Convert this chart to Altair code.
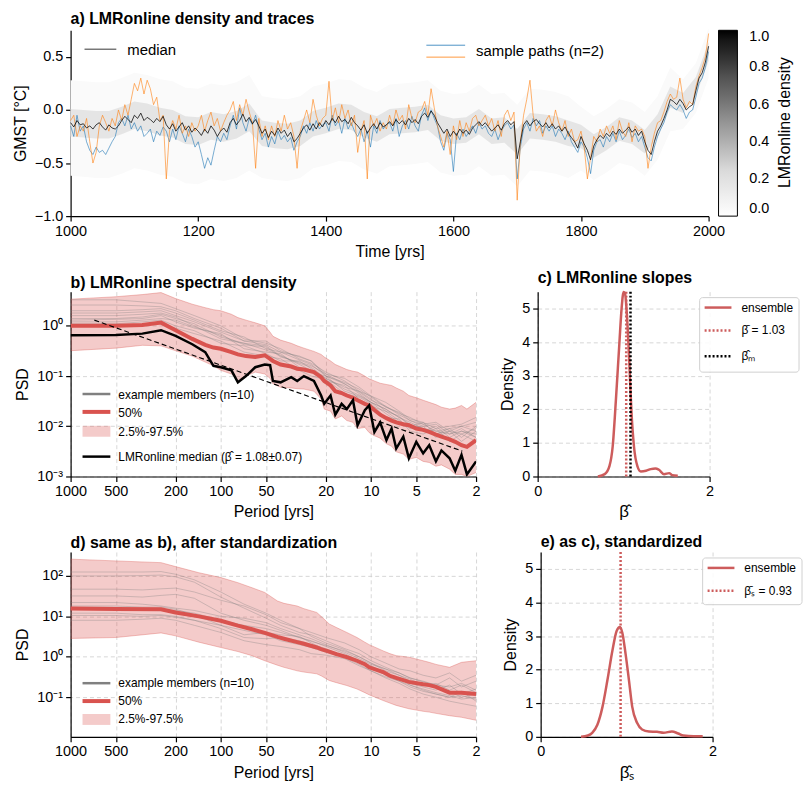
import altair as alt
import pandas as pd

FONT = "Liberation Sans"
RED_B = "#d9534f"
RED_C = "#cd5c5c"
GRID = dict(grid=True, gridDash=[4, 3], gridColor="#cccccc", gridWidth=0.8)

# ---------------- panel a : GMST traces (5-yr steps) ----------------
years5 = list(range(1000, 2001, 5))
median_a = [
    -0.12, -0.16, -0.10, -0.14, -0.13, -0.17, -0.15, -0.18, -0.14, -0.12,
    -0.16, -0.19, -0.14, -0.17, -0.18, -0.15, -0.10, -0.06, -0.09, -0.12,
    -0.05, -0.08, -0.03, -0.10, -0.07, -0.09, -0.12, -0.08, -0.11, -0.06,
    -0.14, -0.18, -0.13, -0.20, -0.16, -0.12, -0.19, -0.15, -0.21, -0.17,
    -0.20, -0.24, -0.18, -0.22, -0.15, -0.19, -0.25, -0.20, -0.17, -0.21,
    -0.12, -0.08, -0.14, -0.10, -0.04, -0.11, -0.07, -0.13, -0.09, -0.15,
    -0.22, -0.18, -0.26, -0.20, -0.24, -0.17, -0.22, -0.19, -0.25, -0.21,
    -0.30, -0.27, -0.22, -0.17, -0.14, -0.19, -0.13, -0.18, -0.12, -0.16,
    -0.10, -0.14, -0.08, -0.12, -0.06, -0.11, -0.09, -0.13, -0.07, -0.12,
    -0.15, -0.19, -0.14, -0.22, -0.17, -0.13, -0.18, -0.12, -0.16, -0.14,
    -0.11, -0.15, -0.09, -0.13, -0.10, -0.14, -0.08, -0.12, -0.09, -0.13,
    -0.06, -0.03, -0.07, -0.01, -0.05, -0.12, -0.17, -0.22, -0.18, -0.25,
    -0.20, -0.24, -0.18, -0.22, -0.19, -0.23, -0.17, -0.14, -0.11, -0.15,
    -0.12, -0.16, -0.20, -0.17, -0.14, -0.19, -0.13, -0.10, -0.14, -0.11,
    -0.46, -0.30, -0.14, -0.10, -0.15, -0.11, -0.09, -0.13, -0.16, -0.12,
    -0.17, -0.13, -0.18, -0.15, -0.20, -0.16, -0.22, -0.26, -0.30, -0.36,
    -0.25, -0.32, -0.38, -0.47, -0.34, -0.28, -0.24, -0.27, -0.22, -0.25,
    -0.20, -0.23, -0.18, -0.22, -0.19, -0.16, -0.21, -0.18, -0.24, -0.20,
    -0.30, -0.38, -0.42, -0.30, -0.20, -0.15, -0.08, 0.00, 0.10, 0.08,
    0.05, 0.10, 0.06, 0.00, 0.03, 0.05, 0.18, 0.30, 0.35, 0.45,
    0.60,
]
blue_a = [
    -0.15, -0.25, -0.05, -0.20, -0.15, -0.30, -0.38, -0.42, -0.35, -0.40,
    -0.38, -0.42, -0.36, -0.30, -0.25, -0.12, -0.08, -0.15, -0.05, -0.18,
    -0.12, -0.20, -0.15, -0.25, -0.22, -0.18, -0.30, -0.20, -0.24, -0.16,
    -0.20, -0.30, -0.18, -0.28, -0.15, -0.22, -0.30, -0.18, -0.25, -0.35,
    -0.30, -0.42, -0.55, -0.45, -0.52, -0.38, -0.25, -0.30, -0.22, -0.28,
    -0.15, -0.05, -0.18, 0.02, -0.12, -0.20, -0.08, -0.14, -0.05, -0.18,
    -0.28, -0.22, -0.35, -0.25, -0.32, -0.20, -0.28, -0.24, -0.30, -0.26,
    -0.38, -0.30, -0.25, -0.15, -0.22, -0.12, -0.20, -0.10, -0.18, -0.14,
    -0.12, -0.20, -0.05, -0.15, -0.10, -0.22, -0.08, -0.18, -0.12, -0.20,
    -0.25, -0.18, -0.30, -0.20, -0.35, -0.15, -0.22, -0.10, -0.18, -0.14,
    -0.12, -0.20, -0.08, -0.25, -0.15, -0.10, -0.18, -0.06, -0.15, -0.20,
    -0.05, 0.02, -0.10, 0.00, -0.08, -0.15, -0.30, -0.38, -0.22, -0.28,
    -0.58, -0.22, -0.28, -0.18, -0.25, -0.20, -0.15, -0.22, -0.12, -0.18,
    -0.15, -0.22, -0.25, -0.18, -0.28, -0.20, -0.15, -0.12, -0.18, -0.14,
    -0.65, -0.35, -0.18, -0.12, -0.20, -0.08, -0.15, -0.10, -0.22, -0.15,
    -0.20, -0.15, -0.25, -0.18, -0.22, -0.28, -0.20, -0.30, -0.35, -0.40,
    -0.30, -0.35, -0.45, -0.60, -0.38, -0.30, -0.28, -0.35, -0.25, -0.30,
    -0.22, -0.30, -0.20, -0.28, -0.24, -0.18, -0.26, -0.22, -0.30, -0.25,
    -0.35, -0.45, -0.48, -0.35, -0.25, -0.18, -0.12, -0.02, 0.05, 0.02,
    0.00, 0.05, 0.00, -0.08, -0.02, 0.00, 0.12, 0.25, 0.30, 0.40,
    0.55,
]
orange_a = [
    -0.10, -0.05, -0.25, -0.15, -0.20, -0.08, -0.30, -0.50, -0.40, -0.15,
    -0.05, -0.12, -0.20, -0.08, -0.15, 0.00, -0.10, 0.05, -0.05, 0.10,
    0.25, 0.18, 0.30, 0.15, 0.28, 0.20, 0.05, 0.12, -0.10, -0.05,
    -0.65, -0.20, -0.10, -0.18, -0.05, -0.22, -0.15, -0.25, -0.12, -0.20,
    -0.15, -0.05, -0.20, -0.10, -0.02, -0.15, -0.08, -0.20, -0.12, -0.05,
    0.00, 0.08, -0.10, 0.05, -0.05, 0.10, -0.02, -0.12, -0.55, -0.08,
    -0.25, -0.15, -0.28, -0.15, -0.25, -0.10, -0.20, -0.05, -0.18, -0.12,
    -0.25, -0.55, -0.20, -0.10, 0.00, -0.12, 0.10, -0.05, -0.15, -0.08,
    -0.05, 0.27, -0.10, 0.02, -0.12, 0.05, -0.08, 0.00, -0.15, -0.05,
    -0.40, -0.20, -0.10, -0.65, -0.05, -0.15, -0.08, -0.20, -0.12, -0.18,
    -0.05, -0.15, 0.00, -0.10, -0.05, -0.18, 0.05, -0.08, -0.12, -0.02,
    0.00, 0.08, -0.05, 0.20, 0.02, -0.15, -0.25, -0.35, -0.20, -0.42,
    -0.15, -0.28, -0.10, -0.25, -0.12, -0.20, -0.08, -0.05, -0.15, -0.10,
    -0.05, -0.15, -0.08, -0.20, -0.10, -0.25, -0.05, 0.00, -0.10, -0.02,
    -0.85, -0.30, -0.05, 0.10, 0.28, -0.05, -0.20, -0.15, -0.25, -0.10,
    -0.05, -0.15, 0.00, -0.12, -0.20, -0.10, -0.25, -0.18, -0.30, -0.28,
    -0.20, -0.35, -0.65, -0.45, -0.25, -0.30, -0.18, -0.25, -0.15, -0.22,
    -0.15, -0.28, -0.10, -0.20, -0.25, -0.12, -0.30, -0.15, -0.20, -0.18,
    -0.25, -0.55, -0.35, -0.22, -0.12, -0.10, -0.02, 0.08, 0.15, 0.10,
    0.12, 0.30, 0.10, 0.02, 0.08, 0.05, 0.22, 0.32, 0.40, 0.50,
    0.72,
]

# density haze envelopes (20-yr steps)
years20 = list(range(1000, 2001, 20))
outer_hi = [0.28, 0.27, 0.26, 0.26, 0.30, 0.35, 0.33, 0.29, 0.27, 0.21,
            0.20, 0.25, 0.23, 0.26, 0.33, 0.13, 0.11, 0.10, 0.13, 0.22,
            0.25, 0.29, 0.28, 0.21, 0.17, 0.24, 0.25, 0.26, 0.28, 0.18,
            0.15, 0.16, 0.24, 0.15, 0.16, 0.05, 0.20, 0.19, 0.17, 0.13,
            0.03, -0.06, 0.01, 0.10, 0.07, -0.02, 0.13, 0.40, 0.29, 0.44,
            0.77]
outer_lo = [-0.62, -0.63, -0.64, -0.64, -0.60, -0.55, -0.57, -0.61, -0.63, -0.69,
            -0.70, -0.65, -0.67, -0.64, -0.57, -0.64, -0.66, -0.67, -0.64, -0.55,
            -0.52, -0.48, -0.49, -0.56, -0.60, -0.53, -0.52, -0.51, -0.49, -0.59,
            -0.62, -0.61, -0.53, -0.62, -0.61, -0.72, -0.57, -0.58, -0.60, -0.64,
            -0.57, -0.66, -0.59, -0.50, -0.53, -0.62, -0.47, -0.20, -0.18, -0.03,
            0.30]
inner_hi = [0.01, 0.00, -0.01, -0.01, 0.03, 0.08, 0.06, 0.02, 0.00, -0.06,
            -0.07, -0.02, -0.04, -0.01, 0.06, -0.10, -0.12, -0.13, -0.10, -0.01,
            0.02, 0.06, 0.05, -0.02, -0.06, 0.01, 0.02, 0.03, 0.05, -0.05,
            -0.08, -0.07, 0.01, -0.08, -0.07, -0.18, -0.03, -0.04, -0.06, -0.10,
            -0.14, -0.23, -0.16, -0.07, -0.10, -0.19, -0.04, 0.22, 0.16, 0.31,
            0.64]
inner_lo = [-0.25, -0.26, -0.27, -0.27, -0.23, -0.18, -0.20, -0.24, -0.26, -0.32,
            -0.33, -0.28, -0.30, -0.27, -0.20, -0.34, -0.36, -0.37, -0.34, -0.25,
            -0.22, -0.18, -0.19, -0.26, -0.30, -0.23, -0.22, -0.21, -0.19, -0.29,
            -0.32, -0.31, -0.23, -0.32, -0.31, -0.42, -0.27, -0.28, -0.30, -0.34,
            -0.36, -0.45, -0.38, -0.29, -0.32, -0.41, -0.26, 0.02, -0.03, 0.13,
            0.46]

# ---------------- panel b : spectral density ----------------
period_b = [1000, 500, 333, 250, 200, 155, 127, 112, 100, 85,
            77, 68, 59, 51, 47, 45, 40, 34, 31, 28,
            24, 21.5, 20.5, 18.6, 17.3, 15.7, 14.5, 13.2, 12.3, 11.0,
            10.3, 9.5, 8.7, 7.9, 7.3, 6.8, 6.1, 5.6, 5.0, 4.5,
            4.1, 3.7, 3.4, 3.0, 2.75, 2.5, 2.3, 2.0]
black_b = [0.65, 0.66, 0.70, 0.82, 0.63, 0.43, 0.30, 0.16, 0.15, 0.13,
           0.075, 0.10, 0.15, 0.17, 0.165, 0.08, 0.075, 0.095, 0.08, 0.10,
           0.08, 0.041, 0.028, 0.041, 0.017, 0.028, 0.022, 0.033, 0.0105, 0.021,
           0.026, 0.0077, 0.012, 0.0053, 0.009, 0.0036, 0.0062, 0.0023, 0.0049, 0.0029,
           0.0042, 0.0020, 0.0033, 0.0023, 0.0013, 0.0027, 0.0011, 0.0020]
red_b = [1.0, 1.0, 1.04, 1.16, 0.82, 0.55, 0.42, 0.37, 0.35, 0.30,
         0.27, 0.25, 0.24, 0.26, 0.22, 0.20, 0.17, 0.155, 0.14, 0.135,
         0.12, 0.095, 0.08, 0.065, 0.05, 0.046, 0.041, 0.037, 0.033, 0.028,
         0.026, 0.021, 0.017, 0.0145, 0.013, 0.012, 0.011, 0.0105, 0.009, 0.0085,
         0.0077, 0.0068, 0.0062, 0.0055, 0.0049, 0.0042, 0.0039, 0.0053]
hi_b = [3.4, 3.8, 4.2, 4.6, 3.5, 2.7, 2.3, 2.1, 2.0, 1.7,
        1.46, 1.3, 1.15, 1.0, 0.75, 0.62, 0.52, 0.45, 0.40, 0.36,
        0.31, 0.27, 0.24, 0.20, 0.17, 0.15, 0.135, 0.125, 0.12, 0.10,
        0.088, 0.08, 0.072, 0.068, 0.065, 0.058, 0.05, 0.041, 0.037, 0.033,
        0.030, 0.027, 0.024, 0.022, 0.023, 0.026, 0.022, 0.030]
lo_b = [0.32, 0.36, 0.41, 0.40, 0.32, 0.25, 0.19, 0.16, 0.13, 0.11,
        0.085, 0.10, 0.12, 0.11, 0.09, 0.07, 0.06, 0.058, 0.056, 0.055,
        0.05, 0.035, 0.022, 0.02, 0.014, 0.016, 0.013, 0.012, 0.009, 0.0095,
        0.0075, 0.0065, 0.0058, 0.0045, 0.004, 0.0031, 0.0028, 0.0022, 0.0024, 0.002,
        0.0019, 0.0016, 0.0017, 0.0014, 0.0011, 0.0011, 0.0010, 0.0012]
fit_period = [695, 2.47]
fit_psd = [1.3, 0.0032]

period_m = [1000, 500, 333, 250, 200, 150, 100, 70, 50, 40, 30, 25,
            20, 15, 12, 10, 8, 6.5, 5.5, 4.5, 3.7, 3, 2.5, 2]
members_b = [
    [3.3, 3.3, 3.0, 2.8, 2.2, 1.6, 1.0, 0.55, 0.45, 0.35, 0.22, 0.18, 0.12, 0.08, 0.05, 0.04, 0.025, 0.018, 0.015, 0.011, 0.012, 0.008, 0.010, 0.012],
    [2.0, 2.0, 2.1, 2.2, 1.8, 1.3, 0.8, 0.6, 0.35, 0.3, 0.25, 0.2, 0.10, 0.07, 0.045, 0.03, 0.022, 0.015, 0.012, 0.009, 0.008, 0.007, 0.009, 0.006],
    [1.6, 1.6, 1.7, 1.8, 1.5, 1.0, 0.55, 0.45, 0.4, 0.25, 0.18, 0.15, 0.09, 0.06, 0.05, 0.035, 0.02, 0.016, 0.010, 0.012, 0.007, 0.009, 0.006, 0.010],
    [1.3, 1.35, 1.4, 1.6, 1.2, 0.9, 0.7, 0.35, 0.3, 0.28, 0.15, 0.12, 0.10, 0.05, 0.04, 0.03, 0.018, 0.012, 0.011, 0.008, 0.010, 0.006, 0.008, 0.007],
    [1.1, 1.1, 1.2, 1.3, 1.0, 0.8, 0.45, 0.4, 0.28, 0.2, 0.2, 0.14, 0.08, 0.065, 0.035, 0.025, 0.02, 0.013, 0.009, 0.010, 0.006, 0.008, 0.005, 0.008],
    [1.0, 1.0, 1.05, 1.1, 0.9, 0.7, 0.5, 0.3, 0.25, 0.22, 0.13, 0.10, 0.085, 0.045, 0.038, 0.028, 0.015, 0.014, 0.008, 0.007, 0.009, 0.005, 0.007, 0.005],
    [2.6, 2.6, 2.5, 2.4, 2.0, 1.4, 0.9, 0.5, 0.5, 0.32, 0.24, 0.2, 0.11, 0.09, 0.06, 0.04, 0.03, 0.02, 0.014, 0.012, 0.009, 0.010, 0.011, 0.015],
    [1.4, 1.4, 1.5, 1.7, 1.4, 1.1, 0.6, 0.45, 0.33, 0.26, 0.17, 0.13, 0.09, 0.055, 0.042, 0.03, 0.022, 0.015, 0.011, 0.009, 0.007, 0.008, 0.007, 0.009],
    [1.2, 1.2, 1.3, 1.4, 1.3, 0.95, 0.65, 0.42, 0.38, 0.24, 0.19, 0.16, 0.11, 0.07, 0.048, 0.033, 0.025, 0.017, 0.013, 0.010, 0.011, 0.007, 0.008, 0.006],
    [1.8, 1.8, 1.9, 2.0, 1.6, 1.2, 0.75, 0.5, 0.42, 0.3, 0.21, 0.17, 0.10, 0.075, 0.055, 0.038, 0.024, 0.019, 0.013, 0.011, 0.008, 0.009, 0.010, 0.008],
]

# ---------------- panel d : standardized spectra ----------------
period_d = [1000, 500, 250, 200, 140, 100, 77, 62, 51, 42,
            38, 31, 28, 23, 21.5, 19, 17, 14.5, 12.4, 11,
            10.3, 8.3, 7.5, 6.8, 5.6, 4.5, 4.1, 3.7, 3.0, 2.5, 2.0]
red_d = [15.7, 15.2, 15.0, 12.5, 10.0, 7.8, 5.9, 4.8, 3.9, 3.1,
         2.8, 2.3, 2.1, 1.7, 1.55, 1.35, 1.17, 0.98, 0.80, 0.66,
         0.55, 0.42, 0.34, 0.30, 0.24, 0.21, 0.20, 0.18, 0.13, 0.13, 0.12]
hi_d = [260, 235, 213, 170, 120, 91, 68, 51, 39, 24,
        21, 18, 15.5, 12.5, 10, 6.5, 5.3, 4.0, 3.0, 2.3,
        2.0, 1.4, 1.2, 1.07, 0.98, 0.80, 0.73, 0.65, 0.55, 0.73, 0.80]
lo_d = [2.85, 3.0, 3.9, 3.3, 2.3, 1.7, 1.35, 1.07, 0.80, 0.62,
        0.55, 0.45, 0.42, 0.38, 0.34, 0.26, 0.23, 0.195, 0.16, 0.13,
        0.115, 0.083, 0.072, 0.063, 0.052, 0.045, 0.043, 0.040, 0.035, 0.032, 0.027]
members_d = [
    [125, 125, 125, 128, 110, 80, 40, 20, 12, 8, 5, 4, 3, 2.2, 1.5, 1.0, 0.7, 0.5, 0.45, 0.35, 0.3, 0.4, 0.25, 0.35],
    [100, 100, 102, 105, 95, 70, 30, 16, 9, 6, 4, 3.5, 2.5, 1.6, 1.2, 0.8, 0.55, 0.4, 0.3, 0.25, 0.2, 0.3, 0.18, 0.25],
    [47, 47, 45, 48, 50, 40, 25, 18, 11, 7, 5, 3.2, 2.2, 1.5, 1.0, 0.7, 0.45, 0.35, 0.28, 0.2, 0.22, 0.15, 0.2, 0.13],
    [32, 32, 30, 33, 35, 28, 12, 8, 6, 4.5, 3, 2.5, 1.8, 1.2, 0.8, 0.6, 0.4, 0.3, 0.22, 0.18, 0.15, 0.2, 0.12, 0.16],
    [22, 22, 20, 18, 16, 14, 10, 9, 7, 5, 3.5, 2.8, 2.0, 1.3, 0.9, 0.65, 0.5, 0.35, 0.25, 0.2, 0.18, 0.14, 0.1, 0.12],
    [18, 18, 17, 17, 15, 11, 6, 3.5, 4, 3.5, 3.2, 2.2, 1.5, 1.1, 0.7, 0.55, 0.35, 0.25, 0.2, 0.15, 0.12, 0.1, 0.14, 0.08],
    [12, 12, 11, 11, 10, 8, 5, 3, 2.8, 3, 2.5, 2, 1.6, 1.0, 0.75, 0.5, 0.38, 0.3, 0.2, 0.16, 0.13, 0.11, 0.09, 0.1],
    [8, 8, 8.5, 9, 8, 6, 4, 2.5, 2.0, 1.8, 1.5, 1.2, 1.1, 0.9, 0.6, 0.45, 0.3, 0.22, 0.16, 0.12, 0.1, 0.08, 0.07, 0.06],
    [10.5, 10.5, 10, 10.5, 9.5, 8, 6, 4.5, 3.5, 2.5, 2.0, 1.7, 1.3, 0.95, 0.65, 0.45, 0.32, 0.25, 0.18, 0.14, 0.12, 0.1, 0.11, 0.09],
    [15, 15, 14, 15, 14, 12, 8, 6, 5, 4, 3, 2.4, 1.9, 1.4, 1.0, 0.7, 0.5, 0.4, 0.3, 0.24, 0.2, 0.18, 0.22, 0.15],
]

# ---------------- panels c / e : slope densities ----------------
c_x = [0.70, 0.78, 0.835, 0.873, 0.91, 0.95, 0.977, 1.0, 1.015, 1.038, 1.065, 1.09,
       1.12, 1.16, 1.2, 1.26, 1.315, 1.37, 1.41, 1.47, 1.53, 1.565, 1.63]
c_y = [0.0, 0.07, 0.31, 0.9, 2.27, 3.94, 5.02, 5.49, 5.46, 4.82, 3.45, 1.98,
       0.9, 0.31, 0.15, 0.17, 0.22, 0.24, 0.2, 0.07, 0.1, 0.04, 0.02]
c_mean = 1.03
c_med = 1.08
e_x = [0.47, 0.55, 0.60, 0.66, 0.72, 0.777, 0.835, 0.885, 0.923, 0.95, 0.988, 1.027,
       1.065, 1.123, 1.18, 1.26, 1.354, 1.43, 1.527, 1.6, 1.66, 1.78, 1.885]
e_y = [0.0, 0.04, 0.12, 0.36, 0.9, 1.69, 2.57, 3.16, 3.27, 3.1, 2.47, 1.69,
       0.9, 0.41, 0.22, 0.16, 0.15, 0.12, 0.16, 0.1, 0.04, 0.02, 0.02]
e_mean = 0.93


# ---------------- helpers for legend decorations ----------------
def single():
    return alt.Chart(pd.DataFrame({"k": [0]}))


def hrule(x1, x2, y, color, width, dash=None, opacity=1.0):
    kw = dict(color=color, strokeWidth=width, opacity=opacity)
    if dash:
        kw["strokeDash"] = dash
    return single().mark_rule(**kw).encode(
        x=alt.value(x1), x2=alt.value(x2), y=alt.value(y))


def label(x, y, s, size=12, **kw):
    opts = dict(align="left", baseline="middle", fontSize=size, font=FONT, color="black")
    opts.update(kw)
    return single().mark_text(**opts).encode(
        x=alt.value(x), y=alt.value(y), text=alt.value(s))


def box(x1, x2, y1, y2, **kw):
    return single().mark_rect(**kw).encode(
        x=alt.value(x1), x2=alt.value(x2), y=alt.value(y1), y2=alt.value(y2))


def ttl(s):
    return alt.TitleParams(s, anchor="start", frame="group", fontSize=16,
                           fontWeight="bold", font=FONT, offset=1)


# ---------------- panel a ----------------
df_a = pd.DataFrame({"year": years5, "median": median_a,
                     "blue": blue_a, "orange": orange_a})
df_out = pd.DataFrame({"year": years20, "lo": outer_lo, "hi": outer_hi, "dens": 0.035})
df_in = pd.DataFrame({"year": years20, "lo": inner_lo, "hi": inner_hi, "dens": 0.17})

xa = alt.X("year:Q", scale=alt.Scale(domain=[1000, 2000], nice=False, zero=False),
           axis=alt.Axis(values=list(range(1000, 2001, 200)), format="d",
                         title="Time [yrs]"))
ya_scale = alt.Scale(domain=[-1.0, 0.75], nice=False, zero=False)
ya_axis = alt.Axis(values=[-1.0, -0.5, 0.0, 0.5],
                   labelExpr="replace(format(datum.value, '.1f'), '-', '\u2212')",
                   title="GMST [°C]")
color_a = alt.Color(
    "dens:Q",
    scale=alt.Scale(domain=[0, 0.25, 0.5, 0.75, 1.0],
                    range=["#ffffff", "#d9d9d9", "#969696", "#525252", "#000000"]),
    legend=alt.Legend(title=None, orient="none", legendX=652,
                      legendY=0, direction="vertical", gradientLength=187,
                      gradientThickness=19, gradientStrokeColor="black",
                      gradientStrokeWidth=1, values=[0, 0.2, 0.4, 0.6, 0.8, 1.0],
                      format=".1f", labelFontSize=14.5, labelOffset=12))

band_out = alt.Chart(df_out).mark_area().encode(
    x=xa, y=alt.Y("lo:Q", scale=ya_scale, axis=ya_axis), y2="hi:Q", color=color_a)
band_in = alt.Chart(df_in).mark_area().encode(
    x=xa, y=alt.Y("lo:Q", scale=ya_scale, axis=ya_axis), y2="hi:Q", color=color_a)
l_blue = alt.Chart(df_a).mark_line(color="#1f77b4", strokeWidth=0.8, opacity=0.75).encode(
    x=xa, y=alt.Y("blue:Q", scale=ya_scale, axis=ya_axis))
l_orange = alt.Chart(df_a).mark_line(color="#ff7f0e", strokeWidth=0.8, opacity=0.75).encode(
    x=xa, y=alt.Y("orange:Q", scale=ya_scale, axis=ya_axis))
l_med = alt.Chart(df_a).mark_line(color="black", strokeWidth=0.9, opacity=0.85).encode(
    x=xa, y=alt.Y("median:Q", scale=ya_scale, axis=ya_axis))

panel_a = alt.layer(
    band_out, band_in, l_blue, l_orange, l_med,
    hrule(14, 46, 19, "black", 0.8),
    label(57, 20, "median", 15),
    hrule(358, 397, 15, "#1f77b4", 0.8),
    hrule(358, 397, 27, "#ff7f0e", 0.8),
    label(408, 21, "sample paths (n=2)", 15),
    label(719, 93, "LMRonline density", 16, angle=270, align="center"),
).properties(width=642, height=187, title=ttl("a) LMRonline density and traces"))


# ---------------- panel b ----------------
df_b = pd.DataFrame({"p": period_b, "black": black_b, "red": red_b,
                     "lo": lo_b, "hi": hi_b})
df_mb = pd.DataFrame([{"p": p, "v": v, "m": i}
                      for i, row in enumerate(members_b)
                      for p, v in zip(period_m, row)])
df_fit = pd.DataFrame({"p": fit_period, "v": fit_psd})

xb = alt.X("p:Q", scale=alt.Scale(type="log", domain=[2, 1000], reverse=True, nice=False),
           axis=alt.Axis(values=[1000, 500, 200, 100, 50, 20, 10, 5, 2], format="d",
                         title="Period [yrs]", **GRID))
yb_scale = alt.Scale(type="log", domain=[0.001, 4.8], nice=False)
yb_axis = alt.Axis(values=[0.001, 0.01, 0.1, 1], title="PSD",
                   labelExpr="datum.value >= 0.5 ? '10\u2070' : datum.value >= 0.05 ? '10\u207b\u00b9' : datum.value >= 0.005 ? '10\u207b\u00b2' : '10\u207b\u00b3'",
                   **GRID)

b_band = alt.Chart(df_b).mark_area(color=RED_B, opacity=0.3, clip=True).encode(
    x=xb, y=alt.Y("lo:Q", scale=yb_scale, axis=yb_axis), y2="hi:Q")
b_hi = alt.Chart(df_b).mark_line(color=RED_B, opacity=0.35, strokeWidth=1, clip=True).encode(
    x=xb, y=alt.Y("hi:Q", scale=yb_scale, axis=yb_axis))
b_lo = alt.Chart(df_b).mark_line(color=RED_B, opacity=0.35, strokeWidth=1, clip=True).encode(
    x=xb, y=alt.Y("lo:Q", scale=yb_scale, axis=yb_axis))
b_mem = alt.Chart(df_mb).mark_line(color="gray", opacity=0.35, strokeWidth=1, clip=True).encode(
    x=xb, y=alt.Y("v:Q", scale=yb_scale, axis=yb_axis), detail="m:N")
b_red = alt.Chart(df_b).mark_line(color=RED_B, strokeWidth=4, clip=True).encode(
    x=xb, y=alt.Y("red:Q", scale=yb_scale, axis=yb_axis))
b_black = alt.Chart(df_b).mark_line(color="black", strokeWidth=2.5, clip=True).encode(
    x=xb, y=alt.Y("black:Q", scale=yb_scale, axis=yb_axis))
b_fit = alt.Chart(df_fit).mark_line(color="black", strokeWidth=1.1, strokeDash=[5, 3]).encode(
    x=xb, y=alt.Y("v:Q", scale=yb_scale, axis=yb_axis))

panel_b = alt.layer(
    b_band, b_hi, b_lo, b_mem, b_red, b_black, b_fit,
    hrule(12, 40, 103, "gray", 2.5),
    label(48, 104, "example members (n=10)"),
    hrule(12, 40, 121, RED_B, 4),
    label(48, 122, "50%"),
    box(12, 40, 135, 146, color=RED_B, opacity=0.3),
    label(48, 141, "2.5%-97.5%"),
    hrule(12, 40, 166, "black", 2.5),
    label(48, 166, "LMRonline median (\u03b2\u0302 = 1.08\u00b10.07)"),
).properties(width=408, height=186, title=ttl("b) LMRonline spectral density"))


# ---------------- panel c / e ----------------
def slope_panel(xs, ys, mean_val, med_val, xtitle, title, legend_rows):
    df = pd.DataFrame({"x": xs, "y": ys})
    xsc = alt.X("x:Q", scale=alt.Scale(domain=[0, 2], nice=False),
                axis=alt.Axis(values=[0, 1, 2], format="d", title=xtitle,
                              titleFontSize=17, **GRID))
    ysc = alt.Y("y:Q", scale=alt.Scale(domain=[0, 5.5], nice=False),
                axis=alt.Axis(values=[0, 1, 2, 3, 4, 5], format="d",
                              title="Density", **GRID))
    curve = alt.Chart(df).mark_line(color=RED_C, strokeWidth=2.5,
                                    interpolate="monotone").encode(x=xsc, y=ysc)
    layers = [curve]
    layers.append(alt.Chart(pd.DataFrame({"x": [mean_val]})).mark_rule(
        color=RED_C, strokeWidth=2.5, strokeDash=[2, 2]).encode(x=xsc))
    if med_val is not None:
        layers.append(alt.Chart(pd.DataFrame({"x": [med_val]})).mark_rule(
            color="black", strokeWidth=2.5, strokeDash=[2, 2]).encode(x=xsc))
    n = len(legend_rows)
    ybot = 53 if n == 2 else 81
    layers.append(box(163, 263, 6, ybot, fill="white", stroke="#cccccc",
                      strokeWidth=1, cornerRadius=3, opacity=0.9))
    for (yy, color, dash, text) in legend_rows:
        layers.append(hrule(168, 195, yy, color, 2.5, dash=dash))
        layers.append(label(205, yy, text, 12))
    return alt.layer(*layers).properties(width=173, height=186, title=ttl(title))


panel_c = slope_panel(
    c_x, c_y, c_mean, c_med, "\u03b2\u0302", "c) LMRonline slopes",
    [(16, RED_C, None, "ensemble"),
     (39, RED_C, [2, 2], "\u03b2\u0304 = 1.03"),
     (65, "black", [2, 2], "\u03b2\u0302\u2098")])

panel_e = slope_panel(
    e_x, e_y, e_mean, None, "\u03b2\u0302\u209b", "e) as c), standardized",
    [(16, RED_C, None, "ensemble"),
     (39, RED_C, [2, 2], "\u03b2\u0304\u209b = 0.93")])


# ---------------- panel d ----------------
df_d = pd.DataFrame({"p": period_d, "red": red_d, "lo": lo_d, "hi": hi_d})
df_md = pd.DataFrame([{"p": p, "v": v, "m": i}
                      for i, row in enumerate(members_d)
                      for p, v in zip(period_m, row)])
yd_scale = alt.Scale(type="log", domain=[0.0105, 390], nice=False)
yd_axis = alt.Axis(values=[0.1, 1, 10, 100], title="PSD",
                   labelExpr="datum.value >= 50 ? '10\u00b2' : datum.value >= 5 ? '10\u00b9' : datum.value >= 0.5 ? '10\u2070' : '10\u207b\u00b9'",
                   **GRID)
d_band = alt.Chart(df_d).mark_area(color=RED_B, opacity=0.3).encode(
    x=xb, y=alt.Y("lo:Q", scale=yd_scale, axis=yd_axis), y2="hi:Q")
d_hi = alt.Chart(df_d).mark_line(color=RED_B, opacity=0.35, strokeWidth=1).encode(
    x=xb, y=alt.Y("hi:Q", scale=yd_scale, axis=yd_axis))
d_lo = alt.Chart(df_d).mark_line(color=RED_B, opacity=0.35, strokeWidth=1).encode(
    x=xb, y=alt.Y("lo:Q", scale=yd_scale, axis=yd_axis))
d_mem = alt.Chart(df_md).mark_line(color="gray", opacity=0.35, strokeWidth=1).encode(
    x=xb, y=alt.Y("v:Q", scale=yd_scale, axis=yd_axis), detail="m:N")
d_red = alt.Chart(df_d).mark_line(color=RED_B, strokeWidth=4).encode(
    x=xb, y=alt.Y("red:Q", scale=yd_scale, axis=yd_axis))

panel_d = alt.layer(
    d_band, d_hi, d_lo, d_mem, d_red,
    hrule(12, 40, 132, "gray", 2.5),
    label(48, 132, "example members (n=10)"),
    hrule(12, 40, 150, RED_B, 4),
    label(48, 150, "50%"),
    box(12, 40, 163, 174, color=RED_B, opacity=0.3),
    label(48, 168, "2.5%-97.5%"),
).properties(width=408, height=186, title=ttl("d) same as b), after standardization"))


chart = alt.vconcat(
    panel_a,
    alt.vconcat(
        alt.hconcat(panel_b, panel_c, spacing=18),
        alt.hconcat(panel_d, panel_e, spacing=18),
        spacing=13,
    ),
    spacing=10,
).properties(
    padding={"left": 4, "top": 0, "right": 0, "bottom": 0}
).configure(font=FONT).configure_view(stroke=None).configure_axis(
    domainColor="black", tickColor="black", labelColor="black", titleColor="black",
    labelFontSize=14.5, titleFontSize=16, titleFontWeight="normal", tickSize=5,
    domainWidth=1.2, tickWidth=1.2, grid=False, labelPadding=3, titlePadding=6,
    labelFlush=False
)

chart.save("out.html", embed_options={"renderer": "svg", "actions": False})
